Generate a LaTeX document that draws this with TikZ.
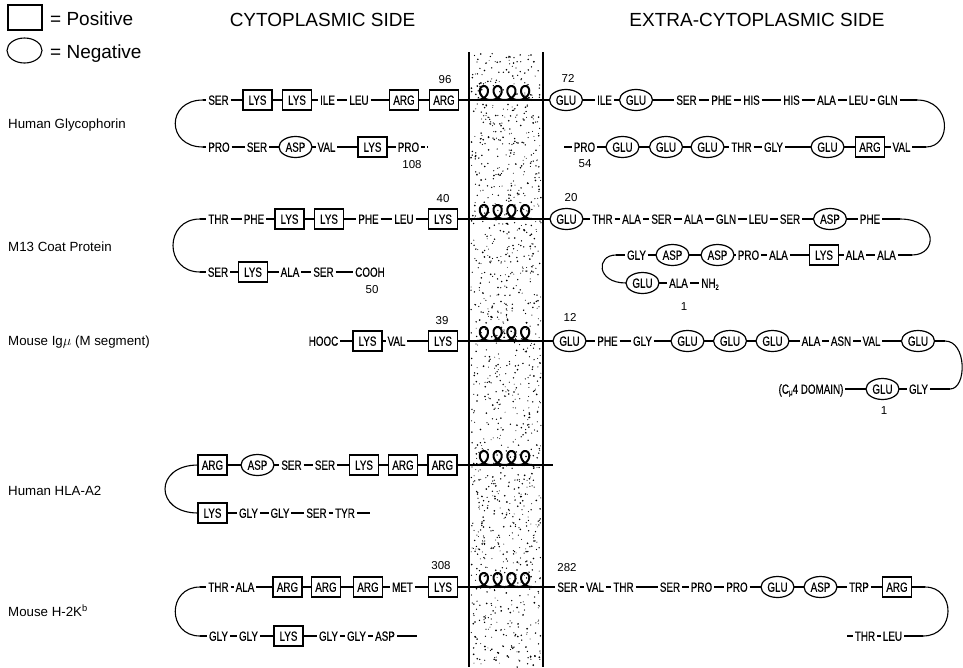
\documentclass[tikz,border=0pt]{standalone}
\usepackage{fontspec}
\setmainfont{Liberation Sans}
\newfontfamily\resfont[FakeStretch=0.74,FakeBold=0.4]{Liberation Sans}
\usetikzlibrary{shapes.geometric}
\newcommand\seqline[3]{\foreach \k in {#2,...,#3}{\pgfmathtruncatemacro\kn{\k+1}\draw[conn] (#1\k) -- (#1\kn);}}
\newcommand\coilat[2]{\draw[coilst] plot[domain=0:25.1327, samples=240, variable=\t] ({#1+2.19*\t+7.2*sin(\t r)},{#2-7+7*cos(\t r)});}
\tikzset{
 res/.style={font=\resfont\fontsize{13.3}{14}\selectfont, inner xsep=2pt, inner ysep=0pt, text height=9.5pt, text depth=0pt, outer sep=0pt},
 posbox/.style={res, draw, line width=1.2pt, rectangle, minimum width=29pt, minimum height=20pt, inner xsep=0pt},
 negoval/.style={res, draw, line width=1.2pt, ellipse, minimum width=33pt, minimum height=21pt, inner xsep=0pt},
 conn/.style={line width=1.1pt},
 thk/.style={line width=2.6pt},
 coilst/.style={line width=2pt, line join=round},
 memb/.style={line width=1.3pt},
 num/.style={font=\fontsize{11.5}{12}\selectfont, inner sep=0pt, text height=8.2pt, text depth=0pt},
 lab/.style={font=\fontsize{13.3}{15}\selectfont, anchor=west, inner sep=0pt, text height=9.5pt, text depth=0pt},
 hdr/.style={font=\fontsize{19}{22}\selectfont, inner sep=0pt, text height=13.6pt, text depth=0pt},
}
\begin{document}
\begin{tikzpicture}[x=1pt,y=-1pt]
\useasboundingbox (0,0) rectangle (963,667);
\fill[white] (0,0) rectangle (963,667);
% membrane stipple
\pgfmathsetseed{42}
\foreach \i in {1,...,1300}{\pgfmathsetmacro\dx{471+70*rnd}\pgfmathsetmacro\dy{53+614*rnd}\pgfmathsetmacro\dr{0.45+0.5*rnd}\fill (\dx,\dy) circle[radius=\dr pt];}
\draw[memb] (469,52) -- (469,667) (543,52) -- (543,667);
% legend and headers
\node[draw, line width=1.1pt, minimum width=34pt, minimum height=25pt, inner sep=0pt] (legbox) at (25,17.5) {};
\node[hdr, anchor=west] (legpos) at (50,19) {= Positive};
\node[draw, ellipse, line width=1.1pt, minimum width=35pt, minimum height=25pt, inner sep=0pt] (legell) at (24.5,50.5) {};
\node[hdr, anchor=west] (legneg) at (50,52) {= Negative};
\node[hdr] (hcyt) at (322.5,20) {CYTOPLASMIC SIDE};
\node[hdr] (hext) at (757,20) {EXTRA-CYTOPLASMIC SIDE};
% ---------- Human Glycophorin
\node[lab] (lgly) at (8,124) {Human Glycophorin};
\coordinate (ga0) at (203,100);
\node[res] (ga1) at (218.5,100) {SER};
\node[posbox] (ga2) at (257.5,100) {LYS};
\node[posbox] (ga3) at (297,100) {LYS};
\node[res] (ga4) at (327.5,100) {ILE};
\node[res] (ga5) at (359,100) {LEU};
\node[posbox] (ga6) at (404,100) {ARG};
\node[posbox] (ga7) at (444,100) {ARG};
\coordinate (gb0) at (203,147);
\node[res] (gb1) at (219,147) {PRO};
\node[res] (gb2) at (257,147) {SER};
\node[negoval] (gb3) at (295.5,147) {ASP};
\node[res] (gb4) at (326.5,147) {VAL};
\node[posbox] (gb5) at (372.5,147) {LYS};
\node[res] (gb6) at (408.5,147) {PRO};
\coordinate (gb7) at (428,147);
\node[negoval] (gc1) at (566,100) {GLU};
\node[res] (gc2) at (604.5,100) {ILE};
\node[negoval] (gc3) at (636,100) {GLU};
\node[res] (gc4) at (686.5,100) {SER};
\node[res] (gc5) at (721.5,100) {PHE};
\node[res] (gc6) at (751.5,100) {HIS};
\node[res] (gc7) at (791.5,100) {HIS};
\node[res] (gc8) at (826.5,100) {ALA};
\node[res] (gc9) at (858.5,100) {LEU};
\node[res] (gc10) at (887.5,100) {GLN};
\coordinate (gc11) at (917,100);
\coordinate (gd0) at (564,147);
\node[res] (gd1) at (584.5,147) {PRO};
\node[negoval] (gd2) at (622.5,147) {GLU};
\node[negoval] (gd3) at (666,147) {GLU};
\node[negoval] (gd4) at (707.5,147) {GLU};
\node[res] (gd5) at (741.5,147) {THR};
\node[res] (gd6) at (773.5,147) {GLY};
\node[negoval] (gd7) at (827.5,147) {GLU};
\node[posbox] (gd8) at (870,147) {ARG};
\node[res] (gd9) at (901.5,147) {VAL};
\coordinate (gd10) at (926,147);
\node[num] (n96) at (445,79) {96};
\node[num] (n72) at (568,78) {72};
\node[num] (n108) at (412,164) {108};
\node[num] (n54) at (585,163) {54};
% ---------- M13
\node[lab] (lm13) at (8,247) {M13 Coat Protein};
\coordinate (ma0) at (200,219);
\node[res] (ma1) at (218.5,219) {THR};
\node[res] (ma2) at (254,219) {PHE};
\node[posbox] (ma3) at (289.5,219) {LYS};
\node[posbox] (ma4) at (329,219) {LYS};
\node[res] (ma5) at (368.5,219) {PHE};
\node[res] (ma6) at (404,219) {LEU};
\node[posbox] (ma7) at (443,219) {LYS};
\coordinate (mb0) at (200,272);
\node[res] (mb1) at (218,272) {SER};
\node[posbox] (mb2) at (253,272) {LYS};
\node[res] (mb3) at (290,272) {ALA};
\node[res] (mb4) at (323.5,272) {SER};
\node[res] (mb5) at (370,272) {COOH};
\node[negoval] (mc1) at (566.5,219) {GLU};
\node[res] (mc2) at (602.5,219) {THR};
\node[res] (mc3) at (631.5,219) {ALA};
\node[res] (mc4) at (661.5,219) {SER};
\node[res] (mc5) at (693.5,219) {ALA};
\node[res] (mc6) at (726,219) {GLN};
\node[res] (mc7) at (758.5,219) {LEU};
\node[res] (mc8) at (790,219) {SER};
\node[negoval] (mc9) at (830,219) {ASP};
\node[res] (mc10) at (870,219) {PHE};
\coordinate (mc11) at (900,219);
\coordinate (md0) at (616,255);
\node[res] (md1) at (636.5,255) {GLY};
\node[negoval] (md2) at (672.5,255) {ASP};
\node[negoval] (md3) at (717.5,255) {ASP};
\node[res] (md4) at (748.5,255) {PRO};
\node[res] (md5) at (778.5,255) {ALA};
\node[posbox] (md6) at (824,255) {LYS};
\node[res] (md7) at (855,255) {ALA};
\node[res] (md8) at (886.5,255) {ALA};
\coordinate (md9) at (912,255);
\node[negoval] (me1) at (642.5,283) {GLU};
\node[res] (me2) at (678.5,283) {ALA};
\node[res] (me3) at (710,283) {NH\raisebox{-2pt}{\fontsize{7.5}{7.5}\selectfont 2}};
\node[num] (n40) at (443,198) {40};
\node[num] (n20) at (571,197) {20};
\node[num] (n50) at (372,289) {50};
\node[num] (n1a) at (684,306) {1};
% ---------- Mouse Ig mu
\node[lab] (lig) at (8,341) {Mouse Ig$\mu$ (M segment)};
\node[res] (ia1) at (323.5,341) {HOOC};
\node[posbox] (ia2) at (367.5,341) {LYS};
\node[res] (ia3) at (396.5,341) {VAL};
\node[posbox] (ia4) at (443,341) {LYS};
\node[negoval] (ic1) at (569.5,341) {GLU};
\node[res] (ic2) at (607.5,341) {PHE};
\node[res] (ic3) at (642.5,341) {GLY};
\node[negoval] (ic4) at (687.5,341) {GLU};
\node[negoval] (ic5) at (730,341) {GLU};
\node[negoval] (ic6) at (772.5,341) {GLU};
\node[res] (ic7) at (811,341) {ALA};
\node[res] (ic8) at (841,341) {ASN};
\node[res] (ic9) at (871.5,341) {VAL};
\node[negoval] (ic10) at (918,341) {GLU};
\coordinate (ic11) at (945,341);
\node[res] (id1) at (811,389) {(C\raisebox{-1.5pt}{\fontsize{8.5}{8.5}\selectfont μ}4 DOMAIN)};
\node[negoval] (id2) at (882.5,389) {GLU};
\node[res] (id3) at (918.5,389) {GLY};
\coordinate (id4) at (950,389);
\node[num] (n39) at (442,320) {39};
\node[num] (n12) at (570,317) {12};
\node[num] (n1b) at (884,410) {1};
% ---------- Human HLA-A2
\node[lab] (lhla) at (8,491) {Human HLA-A2};
\node[posbox] (ha1) at (212.5,465) {ARG};
\node[negoval] (ha2) at (257.5,465) {ASP};
\node[res] (ha3) at (291.5,465) {SER};
\node[res] (ha4) at (325,465) {SER};
\node[posbox] (ha5) at (364,465) {LYS};
\node[posbox] (ha6) at (403,465) {ARG};
\node[posbox] (ha7) at (442.5,465) {ARG};
\node[posbox] (hb1) at (212.5,513) {LYS};
\node[res] (hb2) at (248.5,513) {GLY};
\node[res] (hb3) at (280,513) {GLY};
\node[res] (hb4) at (316.5,513) {SER};
\node[res] (hb5) at (345,513) {TYR};
\coordinate (hb6) at (370,513);
\coordinate (hend) at (553,465);
% ---------- Mouse H-2Kb
\node[lab] (lh2k) at (8,612) {Mouse H-2K\textsuperscript{b}};
\coordinate (ka0) at (200,587);
\node[res] (ka1) at (218.5,587) {THR};
\node[res] (ka2) at (245,587) {ALA};
\node[posbox] (ka3) at (287.5,587) {ARG};
\node[posbox] (ka4) at (326,587) {ARG};
\node[posbox] (ka5) at (368,587) {ARG};
\node[res] (ka6) at (402.5,587) {MET};
\node[posbox] (ka7) at (443,587) {LYS};
\coordinate (kb0) at (200,636);
\node[res] (kb1) at (218.5,636) {GLY};
\node[res] (kb2) at (248.5,636) {GLY};
\node[posbox] (kb3) at (288.5,636) {LYS};
\node[res] (kb4) at (328.5,636) {GLY};
\node[res] (kb5) at (356.5,636) {GLY};
\node[res] (kb6) at (385,636) {ASP};
\coordinate (kb7) at (417,636);
\node[res] (kc1) at (567.5,587) {SER};
\node[res] (kc2) at (595,587) {VAL};
\node[res] (kc3) at (623.5,587) {THR};
\node[res] (kc4) at (670,587) {SER};
\node[res] (kc5) at (701.5,587) {PRO};
\node[res] (kc6) at (737,587) {PRO};
\node[negoval] (kc7) at (777.5,587) {GLU};
\node[negoval] (kc8) at (820.5,587) {ASP};
\node[res] (kc9) at (859,587) {TRP};
\node[posbox] (kc10) at (897,587) {ARG};
\coordinate (kc11) at (925,587);
\coordinate (kd0) at (847,636);
\node[res] (kd1) at (865,636) {THR};
\node[res] (kd2) at (892.5,636) {LEU};
\coordinate (kd3) at (923,636);
\node[num] (n308) at (441,565) {308};
\node[num] (n282) at (567,567) {282};
% ---------- connectors
\seqline{ga}{0}{6}
\seqline{gb}{0}{5}
\draw[conn, dash pattern=on 4pt off 2pt] (gb6) -- (gb7);
\seqline{gc}{1}{10}
\seqline{gd}{0}{9}
\seqline{ma}{0}{6}
\seqline{mb}{0}{4}
\seqline{mc}{1}{10}
\seqline{md}{0}{8}
\seqline{me}{1}{2}
\seqline{ia}{1}{3}
\seqline{ic}{1}{10}
\seqline{id}{1}{3}
\seqline{ha}{1}{6}
\seqline{hb}{1}{5}
\seqline{ka}{0}{6}
\seqline{kb}{0}{6}
\seqline{kc}{1}{10}
\seqline{kd}{0}{2}
% loops
\draw[conn] (ga0) .. controls (166,100) and (166,147) .. (gb0);
\draw[conn] (gc11) .. controls (952,100) and (952,147) .. (gd10);
\draw[conn] (ma0) .. controls (164,219) and (164,272) .. (mb0);
\draw[conn] (mc11) .. controls (938,219) and (938,255) .. (md9);
\draw[conn] (md0) .. controls (596,255) and (596,283) .. (me1.west);
\draw[conn] (ic11) .. controls (967,341) and (967,389) .. (id4);
\draw[conn] (ha1.west) .. controls (154,465) and (154,513) .. (hb1.west);
\draw[conn] (ka0) .. controls (167,587) and (167,636) .. (kb0);
\draw[conn] (kc11) .. controls (956,587) and (956,636) .. (kd3);
% transmembrane segments
\draw[thk] (ga7) -- (gc1);
\draw[thk] (ma7) -- (mc1);
\draw[thk] (ia4) -- (ic1);
\draw[thk] (ha7) -- (hend);
\draw[thk] (ka7) -- (kc1);
\coilat{477}{100}
\coilat{477}{219}
\coilat{477}{341}
\coilat{477}{465}
\coilat{477}{587}
\end{tikzpicture}
\end{document}
